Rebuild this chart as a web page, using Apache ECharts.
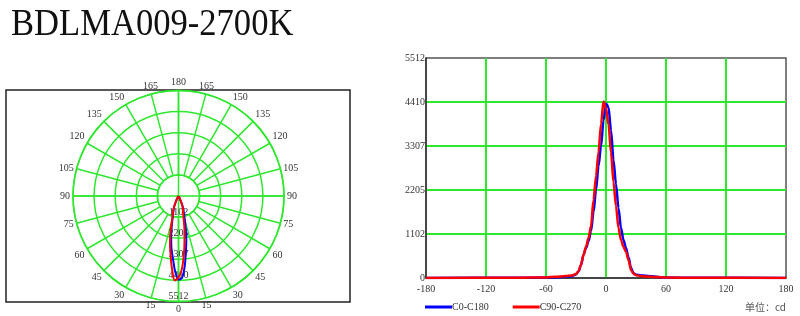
<!DOCTYPE html>
<html>
<head>
<meta charset="utf-8">
<script src="https://cdn.jsdelivr.net/npm/echarts@6/dist/echarts.min.js"></script>
<style>html,body{margin:0;padding:0;background:#fff;}#c{width:800px;height:316px;}</style>
</head>
<body>
<div id="c"></div>
<script>
// ---- data ----
const titleText = 'BDLMA009-2700K';
const seriesNames = ['C0-C180', 'C90-C270'];
const angles = [-180, -90, -60, -50, -40, -35, -30, -27.5, -25, -22.5, -20, -17.5, -15, -12.5, -10, -7.5, -5, -2.5, 0, 2.5, 5, 7.5, 10, 12.5, 15, 17.5, 20, 22.5, 25, 27.5, 30, 35, 40, 50, 60, 90, 180];
const blueC0 = [0, 5, 10, 20, 35, 45, 90, 165, 320, 580, 750, 920, 1180, 1650, 2205, 2800, 3300, 3950, 4370, 4280, 3700, 2950, 2350, 1750, 1250, 950, 750, 520, 250, 120, 80, 65, 55, 30, 10, 5, 0];
const redC90 = [0, 5, 15, 30, 50, 60, 100, 170, 330, 580, 780, 1000, 1300, 1950, 2550, 3150, 3850, 4420, 4250, 3850, 3150, 2400, 1800, 1250, 950, 780, 650, 450, 200, 110, 70, 50, 40, 25, 10, 5, 0];
const maxCd = 5512;
const ringStep = 1102.4;
const xTickMin = -180, xTickMax = 180, xTickStep = 60;
const unitText = '单位：cd';

// ---- styles ----
const GREEN = '#2ee82e';
const BLUE = '#0000ff';
const RED = '#ff0000';
const SERIF = '"Liberation Serif", "DejaVu Serif", serif';
const LBL = { fontFamily: SERIF, fontSize: 10, color: '#333' };

const cartData = s => angles.map((a, i) => [a, s[i]]);
const polarData = s => angles.map((a, i) => [a, s[i]])
  .filter(p => Math.abs(p[0]) <= 90)
  .map(p => [p[1], p[0] < 0 ? p[0] + 360 : p[0]]);

const chart = echarts.init(document.getElementById('c'), null, { renderer: 'canvas' });

const option = {
  animation: false,
  backgroundColor: '#fff',
  graphic: [
    {
      type: 'text', x: 11, y: 6, scaleX: 0.91, scaleY: 1,
      style: { text: titleText, fontFamily: SERIF, fontSize: 38, fill: '#111', verticalAlign: 'top', align: 'left' }
    },
    {
      type: 'rect', shape: { x: 6, y: 90, width: 344, height: 212 },
      style: { fill: 'none', stroke: '#222', lineWidth: 1.5 }, z: -1
    },
    {
      type: 'text', x: 786, y: 307,
      style: { text: unitText, fontFamily: '"Noto Sans CJK SC", sans-serif', fontSize: 10, fill: '#555', align: 'right', verticalAlign: 'middle' }
    }
  ],
  polar: [
    { center: [178.5, 196], radius: [0, 105.5] },
    { center: [178.5, 196], radius: [21.1, 105.5] }
  ],
  angleAxis: [
    {
      polarIndex: 0, type: 'value', min: 0, max: 360, interval: 90, startAngle: 270, clockwise: false,
      axisLine: { show: false }, axisTick: { show: false }, axisLabel: { show: false },
      splitLine: { show: true, lineStyle: { color: GREEN, width: 1.5 } }
    },
    {
      polarIndex: 1, type: 'value', min: 0, max: 360, interval: 15, startAngle: 270, clockwise: false,
      axisLine: { show: true, lineStyle: { color: GREEN, width: 1.5 } },
      axisTick: { show: false },
      axisLabel: Object.assign({ margin: 3, formatter: v => (v >= 360 ? '' : String(v <= 180 ? v : 360 - v)) }, LBL),
      splitLine: { show: true, lineStyle: { color: GREEN, width: 1.5 } }
    }
  ],
  radiusAxis: [
    {
      polarIndex: 0, type: 'value', min: 0, max: maxCd, interval: ringStep,
      axisLine: { show: false }, axisTick: { show: false },
      axisLabel: Object.assign({ margin: 0, align: 'center', verticalAlign: 'bottom', formatter: v => (v === 0 ? '' : String(Math.round(v))) }, LBL),
      splitLine: { show: true, lineStyle: { color: GREEN, width: 1.5 } }
    },
    {
      polarIndex: 1, type: 'value', min: 0, max: maxCd, show: false,
      axisLine: { show: false }, axisTick: { show: false }, axisLabel: { show: false }, splitLine: { show: false }
    }
  ],
  grid: { left: 426, right: 14, top: 58, bottom: 38, show: true, borderColor: '#555', borderWidth: 1.5, backgroundColor: 'transparent', containLabel: false },
  xAxis: {
    type: 'value', min: xTickMin, max: xTickMax, interval: xTickStep,
    axisLine: { show: true, onZero: false, lineStyle: { color: '#333', width: 1.5 } },
    axisTick: { show: false },
    axisLabel: Object.assign({ margin: 6 }, LBL),
    splitLine: { show: true, showMinLine: false, showMaxLine: false, lineStyle: { color: GREEN, width: 2 } }
  },
  yAxis: {
    type: 'value', min: 0, max: maxCd, interval: ringStep,
    axisLine: { show: true, onZero: false, lineStyle: { color: '#333', width: 1.5 } },
    axisTick: { show: false },
    axisLabel: Object.assign({ margin: 1, formatter: v => String(Math.round(v)) }, LBL),
    splitLine: { show: true, showMinLine: false, showMaxLine: false, lineStyle: { color: GREEN, width: 2 } }
  },
  legend: {
    left: 425, top: 302, padding: 0, itemWidth: 27, itemHeight: 3, itemGap: 24,
    icon: 'rect',
    textStyle: Object.assign({ padding: [0, 0, 0, -5] }, LBL),
    data: seriesNames
  },
  series: [
    {
      name: seriesNames[0], type: 'line', data: cartData(blueC0), smooth: 0.3, smoothMonotone: 'x',
      symbol: 'none', lineStyle: { color: BLUE, width: 2.5 }, itemStyle: { color: BLUE }, z: 3
    },
    {
      name: seriesNames[1], type: 'line', data: cartData(redC90), smooth: 0.3, smoothMonotone: 'x',
      symbol: 'none', lineStyle: { color: RED, width: 2.5 }, itemStyle: { color: RED }, z: 4
    },
    {
      name: seriesNames[0], type: 'line', coordinateSystem: 'polar', polarIndex: 0, data: polarData(blueC0), smooth: 0.3,
      symbol: 'none', lineStyle: { color: BLUE, width: 2 }, itemStyle: { color: BLUE }, z: 3
    },
    {
      name: seriesNames[1], type: 'line', coordinateSystem: 'polar', polarIndex: 0, data: polarData(redC90), smooth: 0.3,
      symbol: 'none', lineStyle: { color: RED, width: 2 }, itemStyle: { color: RED }, z: 4
    }
  ]
};
chart.setOption(option);
</script>
</body>
</html>
